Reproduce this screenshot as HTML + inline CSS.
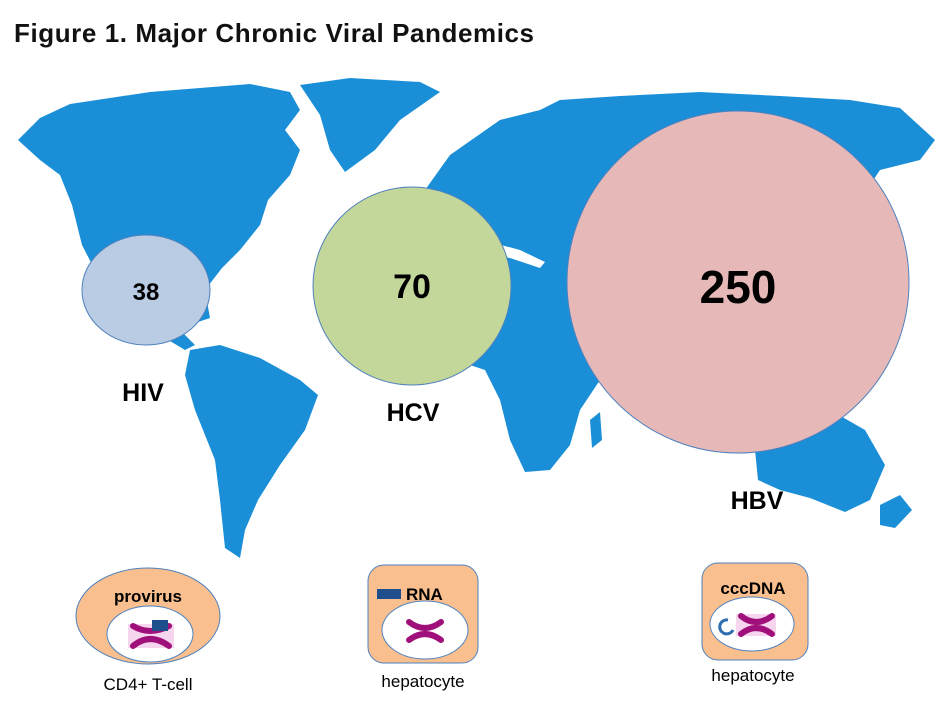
<!DOCTYPE html>
<html><head><meta charset="utf-8"><style>
body{margin:0;background:#fff;}
svg{display:block;font-family:"Liberation Sans",sans-serif;}
</style></head><body>
<svg width="944" height="707" viewBox="0 0 944 707">
<text x="14" y="42" font-size="26" font-weight="bold" fill="#111" textLength="520">Figure 1. Major Chronic Viral Pandemics</text>
<g fill="#1a8fd8">
<path d="M18,140 L40,118 L70,104 L110,98 L150,92 L200,88 L250,84 L290,92 L300,110 L285,130 L300,150 L290,175 L268,200 L260,225 L240,250 L222,268 L205,290 L210,318 L198,322 L190,300 L170,300 L155,310 L175,325 L195,345 L185,350 L160,335 L125,310 L100,280 L82,245 L72,205 L60,175 L40,160 Z"/>
<path d="M300,85 L350,78 L420,82 L440,92 L400,120 L375,150 L345,172 L330,150 L320,115 Z"/>
<path d="M190,350 L220,345 L260,358 L300,380 L318,395 L305,430 L280,465 L258,500 L245,530 L240,558 L225,548 L220,500 L215,460 L195,410 L185,375 Z"/>
<path d="M425,190 L450,155 L500,120 L540,110 L560,100 L620,96 L700,92 L780,96 L850,100 L900,108 L935,140 L920,160 L880,170 L860,200 L840,225 L820,250 L800,270 L780,300 L760,330 L735,345 L710,340 L690,320 L660,330 L640,355 L625,330 L600,300 L570,280 L540,265 L510,250 L480,240 L455,235 L430,225 Z"/>
<path d="M440,270 L480,252 L530,250 L560,262 L585,300 L600,330 L625,340 L600,380 L580,410 L570,445 L550,470 L525,472 L510,440 L500,400 L485,370 L455,360 L432,330 L425,300 Z"/>
<path d="M590,420 L600,412 L602,440 L592,448 Z"/>
<path d="M755,450 L790,425 L830,410 L865,430 L885,465 L870,500 L845,512 L810,498 L780,490 L758,480 Z"/>
<path d="M880,505 L900,495 L912,510 L895,528 L880,525 Z"/>
<path d="M830,215 L845,225 L838,260 L826,255 Z"/>
</g>
<path d="M455,238 L490,242 L520,250 L545,262 L540,268 L510,258 L480,252 L455,252 Z" fill="#fff"/>
<ellipse cx="146" cy="290" rx="64" ry="55" fill="#b9cce4" stroke="#4f81bd" stroke-width="1"/>
<circle cx="412" cy="286" r="99" fill="#c4d79b" stroke="#4f81bd" stroke-width="1"/>
<circle cx="738" cy="282" r="171" fill="#e6b9b8" stroke="#4f81bd" stroke-width="1"/>
<g font-weight="bold" fill="#000" text-anchor="middle">
<text x="146" y="300" font-size="24">38</text>
<text x="412" y="298" font-size="34">70</text>
<text x="738" y="303" font-size="46">250</text>
<text x="143" y="401" font-size="25">HIV</text>
<text x="413" y="421" font-size="25">HCV</text>
<text x="757" y="509" font-size="25">HBV</text>
</g>
<ellipse cx="148" cy="616" rx="72" ry="48" fill="#f9bf8f" stroke="#4f81bd"/>
<ellipse cx="150" cy="634" rx="43" ry="28" fill="#fff" stroke="#4f81bd"/>
<text x="148" y="602" font-size="17" font-weight="bold" text-anchor="middle">provirus</text>
<rect x="128" y="624" width="46" height="24" fill="#f5d6ee"/>
<path d="M133,626 Q150,636 169,626 M133,646 Q150,632 169,646" stroke="#a0107a" stroke-width="6" fill="none" stroke-linecap="round"/>
<rect x="152" y="620" width="16" height="11" fill="#1f4e8c"/>
<text x="148" y="690" font-size="17" text-anchor="middle">CD4+ T-cell</text>
<rect x="368" y="565" width="110" height="98" rx="16" fill="#f9bf8f" stroke="#4f81bd"/>
<ellipse cx="425" cy="630" rx="43" ry="29" fill="#fff" stroke="#4f81bd"/>
<rect x="377" y="589" width="24" height="10" fill="#1f4e8c"/>
<text x="406" y="600" font-size="17" font-weight="bold">RNA</text>
<path d="M409,622 Q425,634 441,622 M409,640 Q425,628 441,640" stroke="#a0107a" stroke-width="6" fill="none" stroke-linecap="round"/>
<text x="423" y="687" font-size="17" text-anchor="middle">hepatocyte</text>
<rect x="702" y="563" width="106" height="97" rx="16" fill="#f9bf8f" stroke="#4f81bd"/>
<ellipse cx="752" cy="624" rx="42" ry="27" fill="#fff" stroke="#4f81bd"/>
<text x="753" y="594" font-size="17" font-weight="bold" text-anchor="middle">cccDNA</text>
<rect x="736" y="614" width="40" height="22" fill="#f5d6ee"/>
<path d="M741,616 Q756,628 772,616 M741,634 Q756,622 772,634" stroke="#a0107a" stroke-width="6" fill="none" stroke-linecap="round"/>
<path d="M728,620 A7,7 0 1 0 733,630" stroke="#2e6db0" stroke-width="3" fill="none"/>
<text x="753" y="681" font-size="17" text-anchor="middle">hepatocyte</text>
</svg>
</body></html>
